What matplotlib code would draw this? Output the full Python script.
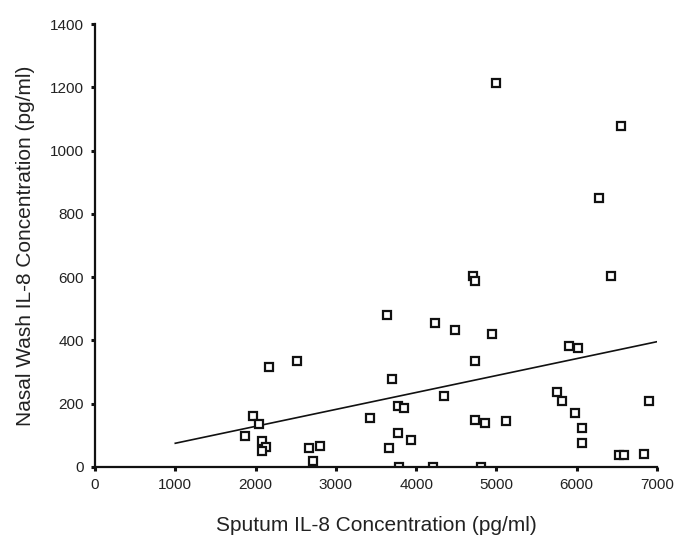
import matplotlib
matplotlib.use("Agg")
import matplotlib.pyplot as plt

# Data
sputum_il8 = [1868, 1964, 2042, 2075, 2130, 2075, 2167, 2510, 2669, 2802, 2719,
              3632, 3699, 3425, 3777, 3852, 3777, 3935, 3665, 3790, 4216, 4807,
              4234, 4490, 4711, 4728, 4951, 4732, 4346, 4732, 4860, 5121,
              5760, 5820, 5903, 6019, 5981, 6069, 6069, 6526, 6592, 6837, 6899,
              4994, 6550, 6276, 6426]
nasal_il8 = [98, 162, 135, 83, 64, 52, 317, 335, 61, 65, 19,
             479, 279, 154, 192, 186, 107, 84, 61, 0, 0, 0,
             456, 433, 604, 589, 419, 336, 224, 148, 140, 144,
             238, 210, 382, 377, 172, 122, 75, 38, 38, 42, 210,
             1212, 1077, 849, 603]

fit_x = [1000, 7000]
fit_y = [75, 396]

x_ticks = [0, 1000, 2000, 3000, 4000, 5000, 6000, 7000]
y_ticks = [0, 200, 400, 600, 800, 1000, 1200, 1400]

plt.rcParams['font.family'] = ['Liberation Sans', 'DejaVu Sans']
text_color = '#222222'

fig = plt.figure(figsize=(6.77, 5.45), dpi=100)
ax = fig.add_axes([95 / 677, 1 - 467 / 545, (657 - 95) / 677, (467 - 24) / 545])

ax.plot(fit_x, fit_y, color='#111111', linewidth=1.2, zorder=2)
ax.plot(sputum_il8, nasal_il8, linestyle='none', marker='s', markersize=5.3,
        markerfacecolor='white', markeredgecolor='#111111', markeredgewidth=1.6, zorder=3)

ax.set_xlim(0, 7000)
ax.set_ylim(0, 1400)
ax.set_xticks(x_ticks)
ax.set_yticks(y_ticks)

for side in ['top', 'right']:
    ax.spines[side].set_visible(False)
for side in ['left', 'bottom']:
    ax.spines[side].set_linewidth(1.6)
    ax.spines[side].set_color('#111111')
    ax.spines[side].set_zorder(4)

ax.tick_params(axis='both', direction='out', length=3, width=2.2, color='#111111',
               labelsize=11, labelcolor=text_color, pad=5)

ax.set_xlabel('Sputum IL-8 Concentration (pg/ml)', fontsize=15, color=text_color, labelpad=17)
ax.set_ylabel('Nasal Wash IL-8 Concentration (pg/ml)', fontsize=15, color=text_color, labelpad=11)

fig.savefig('out.png', dpi=100, facecolor='white')
